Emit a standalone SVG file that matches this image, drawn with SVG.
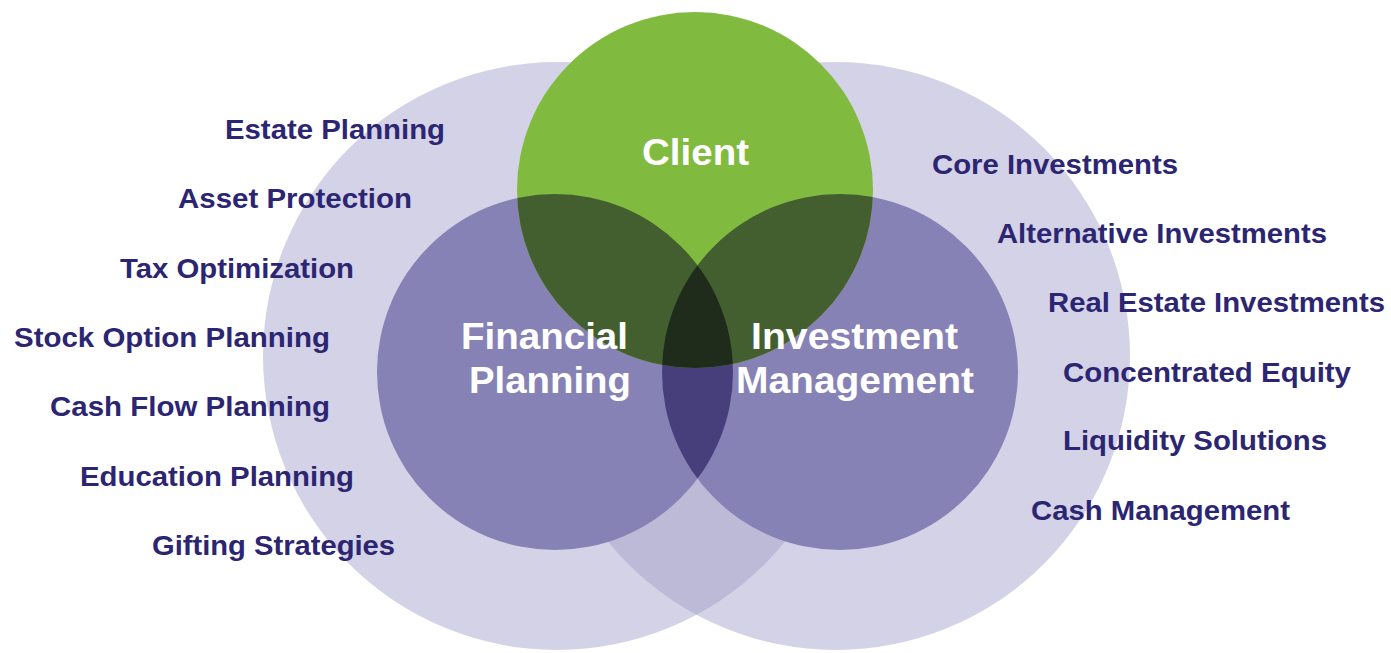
<svg xmlns="http://www.w3.org/2000/svg" width="1391" height="653" viewBox="0 0 1391 653">
  <style>
    .ring { fill: #d4d2e7; }
    .ring-overlap { fill: #bdbad7; }
    .core { fill: #8782b5; }
    .core-overlap { fill: #463f7c; }
    .client { fill: #80ba3f; }
    .client-overlap { fill: #445f2f; }
    .center-overlap { fill: #1f2b1b; }
    .item { font-family: "Liberation Sans", Arial, sans-serif; font-weight: bold; font-size: 27.5px; fill: #2c2572; }
    .title { font-family: "Liberation Sans", Arial, sans-serif; font-weight: bold; font-size: 37px; fill: #ffffff; }
  </style>
  <defs>
    <clipPath id="clipRingL"><circle cx="557" cy="356" r="294"/></clipPath>
    <clipPath id="clipFP"><circle cx="555" cy="372" r="178"/></clipPath>
    <clipPath id="clipClient"><circle cx="695" cy="190" r="178"/></clipPath>
  </defs>

  <rect width="1391" height="653" fill="#ffffff"/>

  <!-- outer service rings -->
  <g id="ring-planning">
    <circle class="ring" cx="557" cy="356" r="294"/>
  </g>
  <g id="ring-investment">
    <circle class="ring" cx="836" cy="356" r="294"/>
    <circle class="ring-overlap" cx="836" cy="356" r="294" clip-path="url(#clipRingL)"/>
  </g>

  <!-- Financial Planning -->
  <g id="financial-planning">
    <circle class="core" cx="555" cy="372" r="178"/>
  </g>

  <!-- Investment Management -->
  <g id="investment-management">
    <circle class="core" cx="840" cy="372" r="178"/>
    <circle class="core-overlap" cx="840" cy="372" r="178" clip-path="url(#clipFP)"/>
  </g>

  <!-- Client -->
  <g id="client">
    <circle class="client" cx="695" cy="190" r="178"/>
    <g clip-path="url(#clipClient)">
      <circle class="client-overlap" cx="555" cy="372" r="178"/>
      <circle class="client-overlap" cx="840" cy="372" r="178"/>
      <circle class="center-overlap" cx="840" cy="372" r="178" clip-path="url(#clipFP)"/>
    </g>
  </g>

  <!-- circle titles -->
  <g id="titles">
    <text class="title" x="642" y="165" textLength="107" lengthAdjust="spacingAndGlyphs">Client</text>
    <text class="title" x="461" y="349" textLength="167" lengthAdjust="spacingAndGlyphs">Financial</text>
    <text class="title" x="469" y="393" textLength="162" lengthAdjust="spacingAndGlyphs">Planning</text>
    <text class="title" x="751" y="349" textLength="207" lengthAdjust="spacingAndGlyphs">Investment</text>
    <text class="title" x="736" y="393" textLength="238" lengthAdjust="spacingAndGlyphs">Management</text>
  </g>

  <!-- planning services -->
  <g id="planning-services">
    <text class="item" x="225" y="139" textLength="220" lengthAdjust="spacingAndGlyphs">Estate Planning</text>
    <text class="item" x="178" y="208" textLength="234" lengthAdjust="spacingAndGlyphs">Asset Protection</text>
    <text class="item" x="120" y="278" textLength="234" lengthAdjust="spacingAndGlyphs">Tax Optimization</text>
    <text class="item" x="14" y="347" textLength="316" lengthAdjust="spacingAndGlyphs">Stock Option Planning</text>
    <text class="item" x="50" y="416" textLength="280" lengthAdjust="spacingAndGlyphs">Cash Flow Planning</text>
    <text class="item" x="80" y="486" textLength="274" lengthAdjust="spacingAndGlyphs">Education Planning</text>
    <text class="item" x="152" y="555" textLength="243" lengthAdjust="spacingAndGlyphs">Gifting Strategies</text>
  </g>

  <!-- investment services -->
  <g id="investment-services">
    <text class="item" x="932" y="174" textLength="246" lengthAdjust="spacingAndGlyphs">Core Investments</text>
    <text class="item" x="997" y="243" textLength="330" lengthAdjust="spacingAndGlyphs">Alternative Investments</text>
    <text class="item" x="1048" y="312" textLength="337" lengthAdjust="spacingAndGlyphs">Real Estate Investments</text>
    <text class="item" x="1063" y="382" textLength="288" lengthAdjust="spacingAndGlyphs">Concentrated Equity</text>
    <text class="item" x="1063" y="450" textLength="264" lengthAdjust="spacingAndGlyphs">Liquidity Solutions</text>
    <text class="item" x="1031" y="520" textLength="259" lengthAdjust="spacingAndGlyphs">Cash Management</text>
  </g>
</svg>
